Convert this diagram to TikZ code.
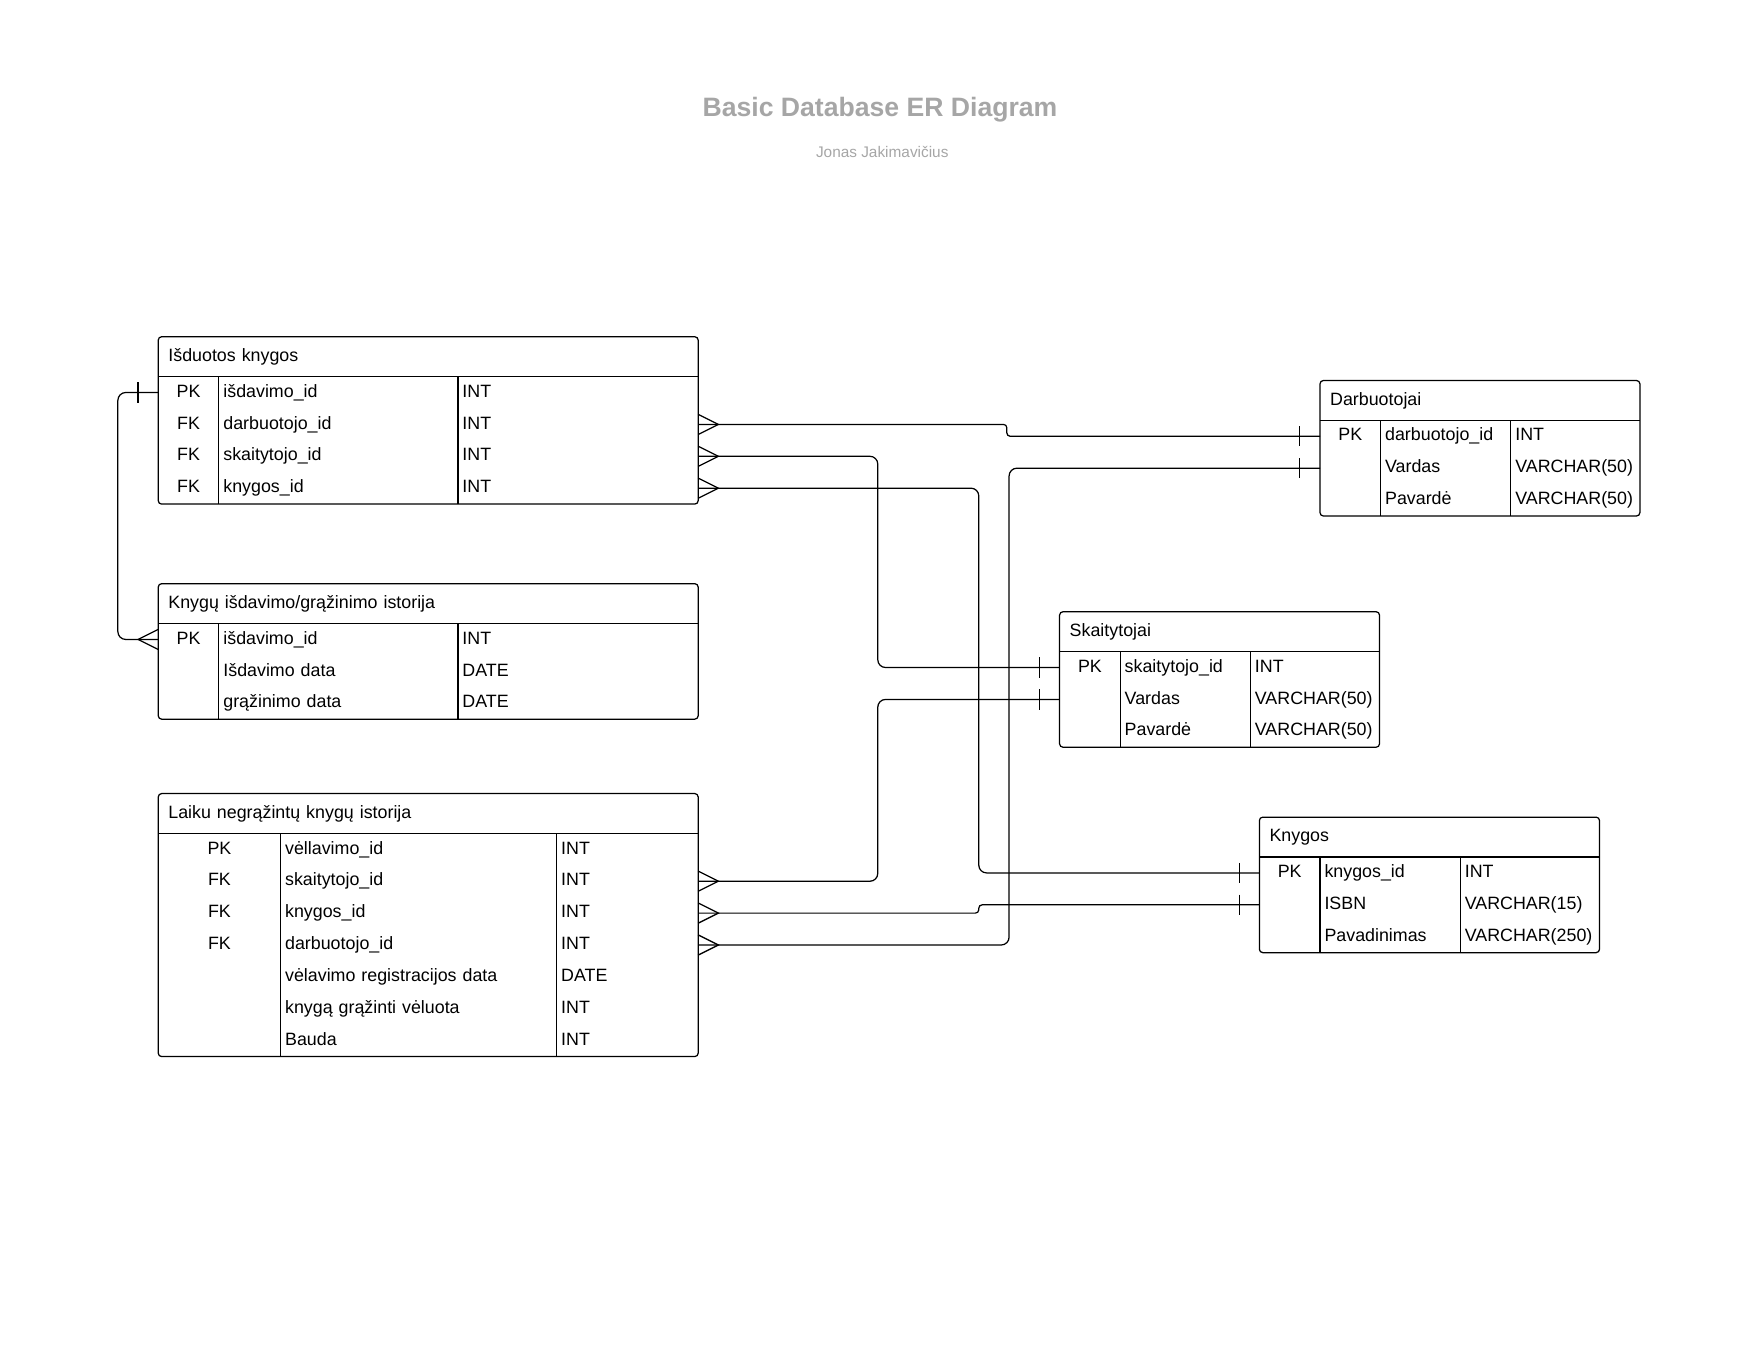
\documentclass[tikz,border=0pt]{standalone}
\usepackage{fontspec}
\setmainfont{Liberation Sans}
\usetikzlibrary{matrix}
\definecolor{titlegray}{RGB}{166,166,166}
\newcommand{\erfont}{\fontsize{15.9}{18}\selectfont}
\tikzset{
  ertab/.style={matrix of nodes, anchor=north west, inner sep=0pt, outer sep=0pt,
    row sep=0pt, column sep=0pt, nodes in empty cells, ampersand replacement=\&,
    nodes={inner xsep=4pt, inner ysep=0pt, outer sep=0pt, minimum height=28.4pt,
      text height=11.5pt, text depth=3.2pt, font=\erfont}},
  cols/.style n args={3}{column 1/.style={nodes={text width=#1, align=center}},
    column 2/.style={nodes={text width=#2, align=left}},
    column 3/.style={nodes={text width=#3, align=left}}},
  tabhead/.style={anchor=north west, minimum height=35.5pt, inner xsep=9pt, inner ysep=0pt,
    outer sep=0pt, text width=#1, align=left, font=\erfont},
}

\begin{document}
\begin{tikzpicture}[x=1pt,y=-1pt,line width=1.1pt]
		\useasboundingbox (0,0) rectangle (1568,1212);
		\node[font=\fontsize{23.7}{28}\selectfont\bfseries, text=titlegray] (title) at (784,98) {Basic Database ER Diagram};
		\node[font=\fontsize{13.7}{16}\selectfont, text=titlegray] (author) at (786,135) {Jonas Jakimavičius};
		
		\node[tabhead=463pt] (isd-h) at (141,300) {Išduotos knygos};
		\matrix (isd) [ertab, cols={46pt}{205pt}{206pt}] at (isd-h.south west)
		{
			PK \& išdavimo\_id \& INT \\
			FK \& darbuotojo\_id \& INT \\
			FK \& skaitytojo\_id \& INT \\
			FK \& knygos\_id \& INT \\
		};
		
		\node[tabhead=463pt] (ist-h) at (141,520) {Knygų išdavimo/grąžinimo istorija};
		\matrix (ist) [ertab, cols={46pt}{205pt}{206pt}] at (ist-h.south west)
		{
			PK \& išdavimo\_id \& INT \\
			\& Išdavimo data \& DATE \\
			\& grąžinimo data \& DATE \\
		};
		
		\node[tabhead=463pt] (vel-h) at (141,707) {Laiku negrąžintų knygų istorija};
		\matrix (vel) [ertab, cols={101pt}{238pt}{118pt}] at (vel-h.south west)
		{
			PK \& vėllavimo\_id \& INT \\
			FK \& skaitytojo\_id \& INT \\
			FK \& knygos\_id \& INT \\
			FK \& darbuotojo\_id \& INT \\
			\& vėlavimo registracijos data \& DATE \\
			\& knygą grąžinti vėluota \& INT \\
			\& Bauda \& INT \\
		};
		
		\node[tabhead=267pt] (dar-h) at (1176,339) {Darbuotojai};
		\matrix (dar) [ertab, cols={46pt}{108pt}{107pt}] at (dar-h.south west)
		{
			PK \& darbuotojo\_id \& INT \\
			\& Vardas \& VARCHAR(50) \\
			\& Pavardė \& VARCHAR(50) \\
		};
		
		\node[tabhead=267pt] (ska-h) at (944,545) {Skaitytojai};
		\matrix (ska) [ertab, cols={46pt}{108pt}{107pt}] at (ska-h.south west)
		{
			PK \& skaitytojo\_id \& INT \\
			\& Vardas \& VARCHAR(50) \\
			\& Pavardė \& VARCHAR(50) \\
		};
		
		\node[tabhead=285pt] (kny-h) at (1122,728) {Knygos};
		\matrix (kny) [ertab, cols={46pt}{117pt}{116pt}] at (kny-h.south west)
		{
			PK \& knygos\_id \& INT \\
			\& ISBN \& VARCHAR(15) \\
			\& Pavadinimas \& VARCHAR(250) \\
		};
		
		\foreach \tb/\nr in {isd/4,ist/3,vel/7,dar/3,ska/3,kny/3}{
			\draw[rounded corners=3pt] (\tb-h.north west) rectangle (\tb.south east);
			\draw (\tb-h.south west) -- (\tb-h.south east);
			\draw (\tb-1-2.north west) -- (\tb-\nr-2.south west);
			\draw (\tb-1-3.north west) -- (\tb-\nr-3.south west);
		}
		
		% vertical channels of the links
		\coordinate (ch0) at (105,0);
		\coordinate (ch1) at (782,0);
		\coordinate (ch2) at (872,0);
		\coordinate (ch3) at (899,0);
		\coordinate (ja) at (897,0);
		
		\begin{scope}[rounded corners=7pt]
			\draw (isd-1-1.west) -| (ch0 |- ist-1-1.west) -- (ist-1-1.west);
			\draw (isd-3-3.east) -| (ch1 |- ska-1-1.west) -- (ska-1-1.west);
			\draw (isd-4-3.east) -| (ch2 |- kny-1-1.west) -- (kny-1-1.west);
			\draw (vel-2-3.east) -| (ch1 |- ska-2-1.west) -- (ska-2-1.west);
			\draw (vel-4-3.east) -| (ch3 |- dar-2-1.west) -- (dar-2-1.west);
		\end{scope}
		% small steps
		\draw[rounded corners=3pt] (isd-2-3.east) -| (ja |- dar-1-1.west) -- (dar-1-1.west);
		\draw[rounded corners=3pt] (vel-3-3.east) -| (ch2 |- kny-2-1.west) -- (kny-2-1.west);
		
		% many ends
		\foreach \cell in {isd-2-3,isd-3-3,isd-4-3,vel-2-3,vel-3-3,vel-4-3}
			\draw (\cell.east) ++(0,-9) -- ++(18,9) -- ++(-18,9);
		\draw (ist-1-1.west) ++(0,-9) -- ++(-18,9) -- ++(18,9);
		% one ends
		\foreach \cell in {isd-1-1,dar-1-1,dar-2-1,ska-1-1,ska-2-1,kny-1-1,kny-2-1}
			\draw (\cell.west) ++(-18,-9) -- ++(0,18);
\end{tikzpicture}
\end{document}
